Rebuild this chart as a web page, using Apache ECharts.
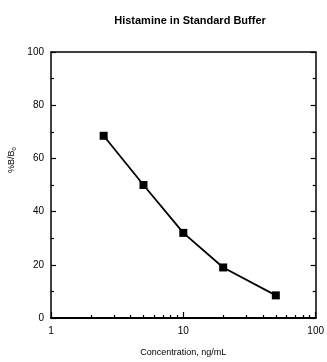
<!DOCTYPE html>
<html>
<head>
<meta charset="utf-8">
<script src="https://cdn.jsdelivr.net/npm/echarts@6/dist/echarts.min.js"></script>
<style>
  html, body { margin: 0; padding: 0; background: #fff; }
  #chart { width: 327px; height: 362px; }
</style>
</head>
<body>
<div id="chart"></div>
<script>
// Concentration (ng/mL) vs %B/B0
const concentrations = [2.5, 5, 10, 20, 50];
const percentBound = [68.5, 50, 32, 19, 8.5];
const xMinorTicks = [2, 3, 4, 5, 6, 7, 8, 9, 20, 30, 40, 50, 60, 70, 80, 90];
const yTicks = [0, 20, 40, 60, 80, 100];

const font = "'Liberation Sans', Arial, sans-serif";
const chart = echarts.init(document.getElementById("chart"));

const yAxisBase = {
  type: "value",
  min: 0,
  max: 100,
  interval: 20,
  splitLine: { show: false },
  axisLine: { show: true, lineStyle: { color: "#000", width: 1.5 } },
  axisTick: { show: true, inside: true, length: 5, lineStyle: { color: "#000", width: 1.2 } },
  minorTick: { show: true, splitNumber: 2, length: 3, lineStyle: { color: "#000", width: 1.2 } },
};

chart.setOption({
  animation: false,
  title: {
    text: "Histamine in Standard Buffer",
    left: 185,
    top: 10,
    textAlign: "center",
    textStyle: { fontFamily: font, fontSize: 11, fontWeight: "bold", color: "#000" },
  },
  grid: { left: 51, right: 7, top: 52, bottom: 40 },
  xAxis: [
    {
      type: "log",
      logBase: 10,
      min: 1,
      max: 100,
      position: "bottom",
      name: "Concentration, ng/mL",
      nameLocation: "middle",
      nameGap: 30,
      nameTextStyle: { fontFamily: font, fontSize: 9, color: "#000" },
      splitLine: { show: false },
      axisLine: { show: true, lineStyle: { color: "#000", width: 2 } },
      axisTick: { show: true, inside: true, length: 6, lineStyle: { color: "#000", width: 1.2 } },
      axisLabel: { fontFamily: font, fontSize: 10, color: "#000", margin: 8 },
    },
    {
      type: "log",
      logBase: 10,
      min: 1,
      max: 100,
      position: "bottom",
      splitLine: { show: false },
      axisLine: { show: false },
      axisLabel: { show: false },
      axisTick: {
        show: true,
        inside: true,
        length: 3,
        customValues: xMinorTicks,
        lineStyle: { color: "#000", width: 1.2 },
      },
    },
    {
      type: "log",
      min: 1,
      max: 100,
      position: "top",
      splitLine: { show: false },
      axisLine: { show: true, lineStyle: { color: "#000", width: 1.5 } },
      axisTick: { show: false },
      axisLabel: { show: false },
    },
  ],
  yAxis: [
    Object.assign({}, yAxisBase, {
      position: "left",
      axisLabel: { fontFamily: font, fontSize: 10, color: "#000", margin: 7 },
    }),
    Object.assign({}, yAxisBase, {
      position: "right",
      axisLabel: { show: false },
    }),
  ],
  graphic: [
    {
      type: "text",
      x: 12,
      y: 160,
      rotation: Math.PI / 2,
      style: {
        text: "%B/B{s|0}",
        fontFamily: font,
        fontSize: 9,
        fill: "#000",
        align: "center",
        verticalAlign: "middle",
        rich: { s: { fontSize: 6, fontFamily: font, verticalAlign: "bottom", padding: [4, 0, 0, 0] } },
      },
    },
  ],
  series: [
    {
      type: "line",
      xAxisIndex: 0,
      yAxisIndex: 0,
      data: concentrations.map((c, i) => [c, percentBound[i]]),
      symbol: "rect",
      symbolSize: 8,
      itemStyle: { color: "#000" },
      lineStyle: { color: "#000", width: 1.8 },
    },
  ],
});
</script>
</body>
</html>
